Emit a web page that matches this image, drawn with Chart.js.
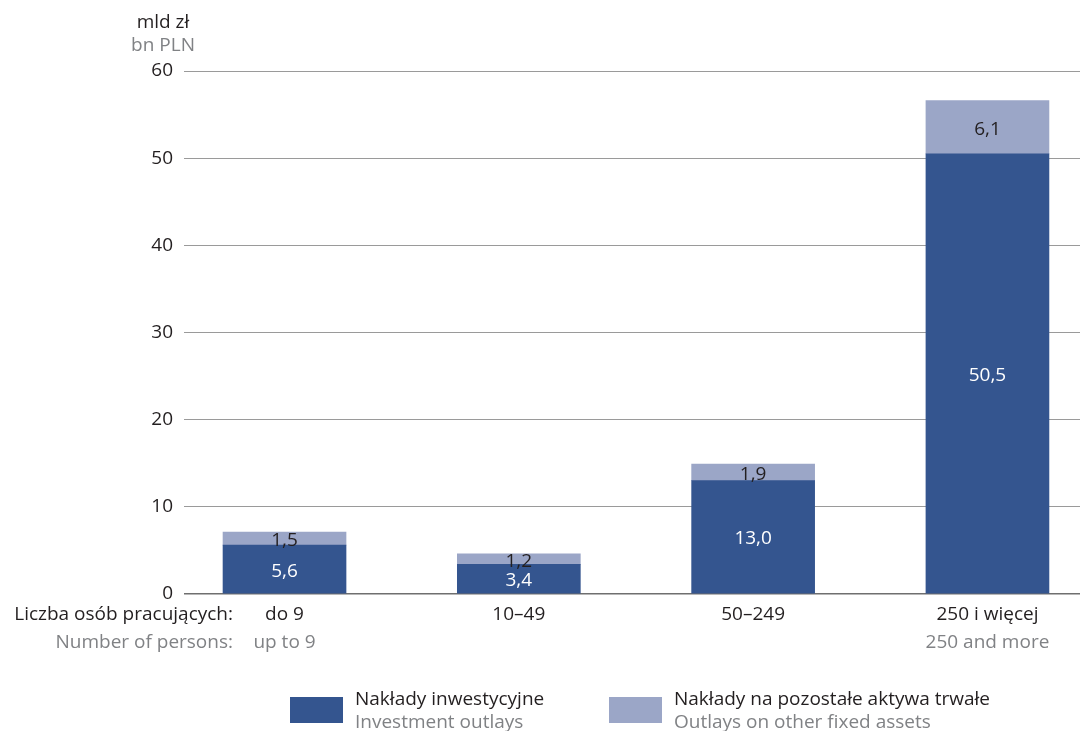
<!DOCTYPE html>
<html>
<head>
<meta charset="utf-8">
<script src="https://cdn.jsdelivr.net/npm/chart.js@4"></script>
<style>
  body { margin: 0; background: #fff; }
  #caja { width: 1080px; height: 731px; position: relative; }
</style>
</head>
<body>
<div id="caja"><canvas id="grafica"></canvas></div>
<script>
// datos
const categorias = ["do 9", "10–49", "50–249", "250 i więcej"];
const categoriasEn = ["up to 9", "", "", "250 and more"];
const inwestycyjne = [5.6, 3.4, 13.0, 50.5];
const pozostale = [1.5, 1.2, 1.9, 6.1];
const etykietyY = [0, 10, 20, 30, 40, 50, 60];
const serieNombres = ["Nakłady inwestycyjne", "Nakłady na pozostałe aktywa trwałe"];
const serieNombresEn = ["Investment outlays", "Outlays on other fixed assets"];

const fuente = "'Open Sans', sans-serif";
const negro = "#231f20";
const gris = "#808285";
const azul = "#34558f";
const azulClaro = "#9ba6c7";

function fmt(v) {
    return v.toFixed(1).replace(".", ",");
}

// etiquetas dentro de las barras, eje x y leyenda
const extras = {
    id: "extras",
    afterDatasetsDraw(chart) {
        let ctx = chart.ctx;
        ctx.save();
        ctx.font = "19px " + fuente;
        ctx.textAlign = "center";
        ctx.textBaseline = "middle";
        chart.data.datasets.forEach((ds, d) => {
            let meta = chart.getDatasetMeta(d);
            meta.data.forEach((bar, i) => {
                ctx.fillStyle = d == 0 ? "#ffffff" : negro;
                ctx.fillText(fmt(ds.data[i].y), bar.x, (bar.y + bar.base) / 2 + 2);
            });
        });
        ctx.restore();
    },
    afterDraw(chart) {
        let ctx = chart.ctx;
        let x = chart.scales.x;
        ctx.save();
        ctx.font = "19px " + fuente;
        ctx.textBaseline = "middle";

        // titulo eje y
        ctx.textAlign = "center";
        ctx.fillStyle = negro;
        ctx.fillText("mld zł", 163, 23);
        ctx.fillStyle = gris;
        ctx.fillText("bn PLN", 163, 46);

        // eje x
        for (let i = 0; i < categorias.length; i++) {
            let px = x.getPixelForValue(i);
            ctx.fillStyle = negro;
            ctx.fillText(categorias[i], px, 615);
            ctx.fillStyle = gris;
            ctx.fillText(categoriasEn[i], px, 643);
        }
        ctx.textAlign = "right";
        ctx.fillStyle = negro;
        ctx.fillText("Liczba osób pracujących:", 233, 615);
        ctx.fillStyle = gris;
        ctx.fillText("Number of persons:", 233, 643);

        // leyenda
        let cajas = [290, 609];
        let colores = [azul, azulClaro];
        ctx.textAlign = "left";
        for (let i = 0; i < 2; i++) {
            ctx.fillStyle = colores[i];
            ctx.fillRect(cajas[i], 697, 53, 26);
            ctx.fillStyle = negro;
            ctx.fillText(serieNombres[i], cajas[i] + 65, 700);
            ctx.fillStyle = gris;
            ctx.fillText(serieNombresEn[i], cajas[i] + 65, 723);
        }
        ctx.restore();
    }
};

let graph = document.getElementById("grafica");
let myChart = new Chart(graph, {
    type: "bar",
    data: {
        datasets: [{
            label: serieNombres[0],
            data: inwestycyjne.map((v, i) => ({ x: i, y: v })),
            backgroundColor: azul,
            barThickness: 123
        }, {
            label: serieNombres[1],
            data: pozostale.map((v, i) => ({ x: i, y: v })),
            backgroundColor: azulClaro,
            barThickness: 123
        }]
    },
    options: {
        responsive: true,
        maintainAspectRatio: false,
        animation: false,
        layout: { padding: { top: 71, bottom: 137, left: 0, right: 0 } },
        plugins: {
            legend: { display: false },
            tooltip: { enabled: false }
        },
        scales: {
            x: {
                type: "linear",
                display: false,
                stacked: true,
                offset: false,
                min: -0.429,
                max: 3.395
            },
            y: {
                stacked: true,
                min: 0,
                max: 60,
                afterFit(scale) { scale.width = 184; },
                afterBuildTicks(scale) {
                    scale.ticks = etykietyY.map(v => ({ value: v }));
                },
                border: { display: false },
                grid: {
                    drawTicks: false,
                    color: (c) => c.tick && c.tick.value == 0 ? "#6f6f6f" : "#9a9a9a",
                    lineWidth: (c) => c.tick && c.tick.value == 0 ? 1.5 : 1
                },
                ticks: {
                    padding: 11,
                    color: negro,
                    font: { family: fuente, size: 19 }
                }
            }
        }
    },
    plugins: [extras]
});
</script>
</body>
</html>
